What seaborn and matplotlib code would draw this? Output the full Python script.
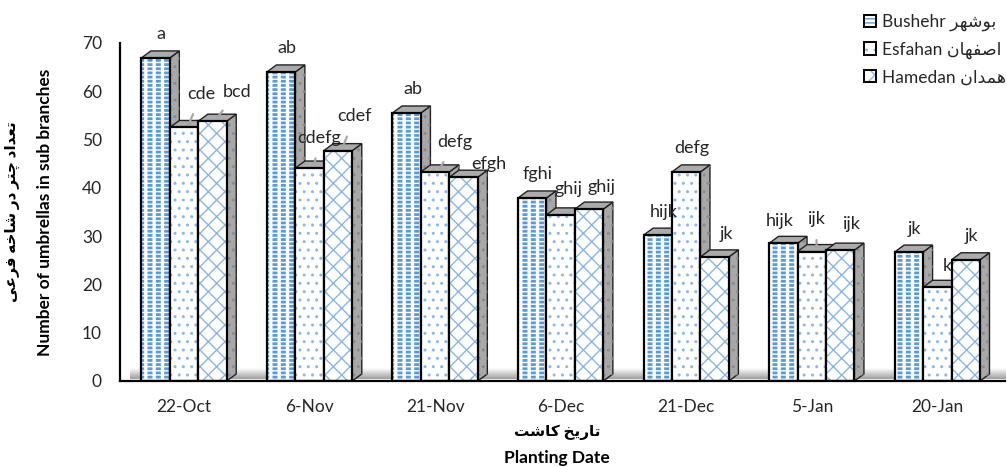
import numpy as np
import pandas as pd
import matplotlib
matplotlib.use('Agg')
import matplotlib.pyplot as plt
import seaborn as sns
from matplotlib.patches import Polygon, Rectangle, Patch

# values
dates = ['22-Oct', '6-Nov', '21-Nov', '6-Dec', '21-Dec', '5-Jan', '20-Jan']
sites = ['Bushehr', 'Esfahan', 'Hamedan']
bushehr = [66.9, 64.0, 55.5, 37.9, 30.2, 28.5, 26.7]
esfahan = [52.5, 44.1, 43.3, 34.4, 43.3, 26.8, 19.4]
hamedan = [53.8, 47.7, 42.2, 35.6, 25.7, 27.1, 25.1]
letters_bushehr = ['a', 'ab', 'ab', 'fghi', 'hijk', 'hijk', 'jk']
letters_esfahan = ['cde', 'cdefg', 'defg', 'ghij', 'defg', 'ijk', 'k']
letters_hamedan = ['bcd', 'cdef', 'efgh', 'ghij', 'jk', 'ijk', 'jk']

# Persian text, written in visual order with presentation forms
fa_sites = ['\uFEAE\uFEEC\uFEB7\uFEEE\uFE91',
            '\uFEE5\uFE8E\uFEEC\uFED4\uFEBB\uFE8D',
            '\uFEE5\uFE8D\uFEAA\uFEE4\uFEEB']
fa_ylabel = ('\uFBFD\uFECB\uFEAE\uFED3 \uFEEA\uFEA7\uFE8E\uFEB7 \uFEAD\uFEA9 '
             '\uFEAE\uFE98\uFB7C \uFEA9\uFE8D\uFEAA\uFECC\uFE97')
fa_xlabel = '\uFE96\uFEB7\uFE8E\uFB90 \uFEA6\uFBFE\uFEAD\uFE8E\uFE97'

df = pd.DataFrame({
    'date': dates * 3,
    'site': [s for s in sites for _ in dates],
    'value': bushehr + esfahan + hamedan,
})
letters = [letters_bushehr, letters_esfahan, letters_hamedan]

sns.set_style('white')
plt.rcParams['font.family'] = ['Lato', 'DejaVu Sans']
plt.rcParams['hatch.linewidth'] = 1.0

fig = plt.figure(figsize=(10.07, 4.67), dpi=100)
ax = fig.add_axes([0.1192, 0.1842, 0.8789, 0.7238])

sns.barplot(data=df, x='date', y='value', hue='site', order=dates,
            hue_order=sites, width=0.68, gap=0, errorbar=None,
            palette={s: 'white' for s in sites}, legend=False, ax=ax)

XMIN, XMAX = -0.51, 6.54
ax.set_xlim(XMIN, XMAX)
ax.set_ylim(0, 70)

# 3D depth offsets (data units)
DX = 9.5 / 125.5
DY = 1.45

hatch_style = {
    'Bushehr': ('----', '#5b9bd5'),
    'Esfahan': ('..', '#8db8e6'),
    'Hamedan': ('xx', '#8ab6e3'),
}

def set_hlw(p, lw):
    if hasattr(p, 'set_hatch_linewidth'):
        p.set_hatch_linewidth(lw)

bars = sorted(list(ax.patches), key=lambda p: p.get_x())
for k, p in enumerate(bars):
    x0, w, h = p.get_x(), p.get_width(), p.get_height()
    x1 = x0 + w
    j = k % 3
    site = sites[j]
    z = 2 + k * 0.1
    side = Polygon([(x1, 0), (x1 + DX, DY), (x1 + DX, h + DY), (x1, h)],
                   closed=True, facecolor='#a8a8a8', edgecolor='#222222',
                   lw=1.0, zorder=z)
    side_h = Polygon(side.get_xy(), closed=True, fill=False, hatch='..',
                     edgecolor='#8c8c8c', lw=0, zorder=z + 0.01)
    top = Polygon([(x0, h), (x1, h), (x1 + DX, h + DY), (x0 + DX, h + DY)],
                  closed=True, facecolor='#ababab', edgecolor='#222222',
                  lw=1.0, zorder=z + 0.02)
    for q in (side, side_h, top):
        ax.add_patch(q)
    hatch, col = hatch_style[site]
    p.set_facecolor('white')
    p.set_edgecolor(col)
    p.set_linewidth(0)
    p.set_hatch(hatch)
    p.set_zorder(z + 0.04)
    if site == 'Bushehr':
        set_hlw(p, 2.0)
        cut = Rectangle((x0, 0), w, h, fill=False, hatch='||',
                        edgecolor='white', lw=0, zorder=z + 0.05)
        set_hlw(cut, 2.4)
        ax.add_patch(cut)
    ax.add_patch(Rectangle((x0, 0), w, h, fill=False, edgecolor='black',
                           lw=1.6, zorder=z + 0.06))

    # significance letters
    i = k // 3
    off = {(0, 1): (13, 30, True), (0, 2): (20, 26, True),
           (1, 1): (5, 27, True), (1, 2): (12, 31, True),
           (2, 1): (15, 26, True), (2, 2): (20, 10, False),
           (3, 1): (3, 22, False), (3, 2): (8, 19, False),
           (4, 2): (7, 19, False), (5, 0): (-8, 19, False),
           (5, 1): (0, 29, True), (5, 2): (7, 23, False),
           (6, 1): (5, 18, False)}.get((i, j), (1, 20, False))
    arrow = dict(arrowstyle='-', color='#a6a6a6', lw=1.6,
                 shrinkA=7, shrinkB=0) if off[2] else None
    ax.annotate(letters[j][i], xy=(x0 + w / 2 + DX / 2, h + DY / 2),
                xytext=(off[0], off[1]), textcoords='offset pixels',
                ha='center', va='center', fontsize=13, color='#262626',
                arrowprops=arrow, zorder=10)

# floor shadow
grad = np.linspace(0.62, 1.0, 60).reshape(-1, 1)
ax.imshow(grad, extent=[XMIN + 0.08, XMAX, 0.4, 2.6], origin='lower',
          aspect='auto', cmap='gray', vmin=0, vmax=1, zorder=1,
          interpolation='bilinear')
ax.set_xlim(XMIN, XMAX)
ax.set_ylim(0, 70)

ax.set_yticks(range(0, 71, 10))
ax.tick_params(axis='both', length=0, labelsize=12.5, labelcolor='#262626')
ax.tick_params(axis='y', pad=13)
ax.tick_params(axis='x', pad=13)
ax.set_xlabel('')
ax.set_ylabel('')
for s in ('top', 'right'):
    ax.spines[s].set_visible(False)
for s in ('left', 'bottom'):
    ax.spines[s].set_color('black')
    ax.spines[s].set_linewidth(1.6)
    ax.spines[s].set_zorder(12)

fig.text(12 / 1007, 1 - 212 / 467, fa_ylabel, rotation=90, ha='center',
         va='center', fontsize=11, fontweight='bold', color='black')
fig.text(45 / 1007, 1 - 212 / 467, 'Number of umbrellas in sub branches',
         rotation=90, ha='center', va='center', fontsize=12.5,
         fontweight='bold', color='black')
fig.text(557 / 1007, 1 - 432 / 467, fa_xlabel, ha='center', va='center',
         fontsize=11, fontweight='bold', color='black')
fig.text(557 / 1007, 1 - 458 / 467, 'Planting Date', ha='center',
         va='center', fontsize=12.5, fontweight='bold', color='black')

handles = []
for site in sites:
    hatch, col = hatch_style[site]
    ph = Patch(facecolor='white', edgecolor=col, lw=0, hatch=hatch)
    po = Patch(facecolor='none', edgecolor='black', lw=1.4)
    handles.append((ph, po))
fig.legend(handles, [f'{s} {f}' for s, f in zip(sites, fa_sites)],
           loc='upper left', bbox_to_anchor=(850 / 1007, 1.0),
           frameon=False, fontsize=12.5, handlelength=0.7, handleheight=0.7,
           handletextpad=0.35, labelspacing=0.6, borderpad=0.3,
           labelcolor='#262626')

fig.savefig('out.png', dpi=100)
